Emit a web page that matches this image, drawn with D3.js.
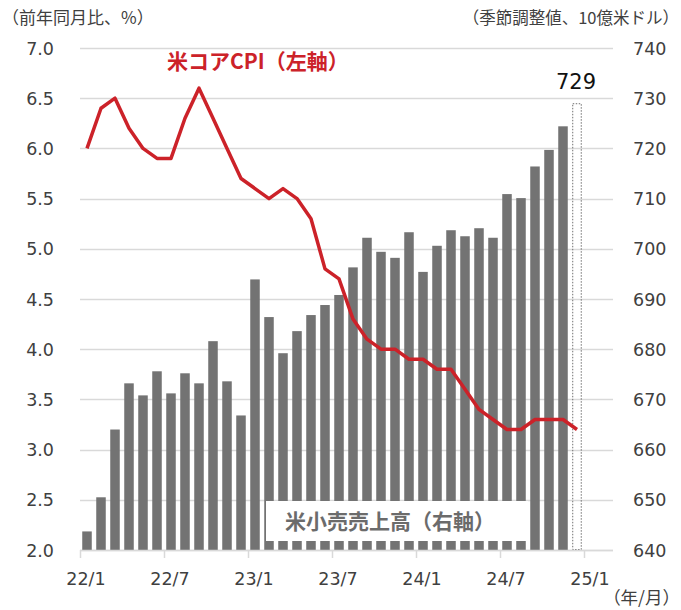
<!DOCTYPE html>
<html><head><meta charset="utf-8">
<script src="https://cdn.jsdelivr.net/npm/d3@7"></script>
<style>
html,body{margin:0;padding:0;background:#fff;}
svg{display:block;}
</style></head>
<body>
<svg id="chart" width="681" height="610"></svg>
<script>
// ---- data ----
const months = ['22/1','22/2','22/3','22/4','22/5','22/6','22/7','22/8','22/9','22/10','22/11','22/12',
  '23/1','23/2','23/3','23/4','23/5','23/6','23/7','23/8','23/9','23/10','23/11','23/12',
  '24/1','24/2','24/3','24/4','24/5','24/6','24/7','24/8','24/9','24/10','24/11','24/12','25/1','25/2'];
const retailSales = [643.7,650.5,664.0,673.2,670.8,675.6,671.2,675.2,673.2,681.6,673.6,666.8,
  693.9,686.4,679.2,683.6,686.8,688.8,690.8,696.3,702.2,699.4,698.2,703.3,
  695.4,700.6,703.7,702.5,704.1,702.2,710.9,710.1,716.4,719.7,724.4,729];
const coreCPI = [6.0,6.4,6.5,6.2,6.0,5.9,5.9,6.3,6.6,6.3,6.0,5.7,
  5.6,5.5,5.6,5.5,5.3,4.8,4.7,4.3,4.1,4.0,4.0,3.9,
  3.9,3.8,3.8,3.6,3.4,3.3,3.2,3.2,3.3,3.3,3.3,3.2];
const xTickLabels = ['22/1','22/7','23/1','23/7','24/1','24/7','25/1'];
const leftTicks = [2.0,2.5,3.0,3.5,4.0,4.5,5.0,5.5,6.0,6.5,7.0];
const rightTicks = [640,650,660,670,680,690,700,710,720,730,740];
const estimateIndex = 35; // last bar drawn as dotted outline
const estimateLabel = '729';

// ---- layout ----
const L = 80, R = 612, T = 48, B = 550;
const svg = d3.select('#chart');
const x = d3.scaleBand().domain(months).range([L, R]).padding(0);
const xb = d3.scaleBand().domain(months).range([L, R]).paddingInner(0.32).paddingOuter(0.16);
const yL = d3.scaleLinear().domain([2, 7]).range([B, T]);
const yR = d3.scaleLinear().domain([640, 740]).range([B, T]);

const tickFont = '"DejaVu Sans", Verdana, sans-serif';
const jpFont = '"Noto Sans CJK JP", sans-serif';
const tickColor = '#404040';

// gridlines
svg.append('g').selectAll('line').data(leftTicks).join('line')
  .attr('x1', L).attr('x2', R + 1)
  .attr('y1', d => Math.round(yL(d)) + 0.5).attr('y2', d => Math.round(yL(d)) + 0.5)
  .attr('stroke', '#d9d9d9').attr('stroke-width', 1.5);

// bars
const barData = retailSales.map((v, i) => ({m: months[i], v, i}));
svg.append('g').selectAll('rect').data(barData.filter(d => d.i !== estimateIndex)).join('rect')
  .attr('x', d => xb(d.m)).attr('width', xb.bandwidth())
  .attr('y', d => yR(d.v)).attr('height', d => B - yR(d.v))
  .attr('fill', '#737373');

// estimate bar (dotted outline)
const est = barData[estimateIndex];
svg.append('rect')
  .attr('x', xb(est.m) + 0.5).attr('width', xb.bandwidth() - 1)
  .attr('y', yR(est.v) + 0.5).attr('height', B - yR(est.v) - 1)
  .attr('fill', 'none').attr('stroke', '#707070').attr('stroke-width', 1)
  .attr('stroke-dasharray', '1.5,1.5');

svg.append('text').attr('x', x(est.m) + x.bandwidth() / 2 - 1).attr('y', yR(est.v) - 14)
  .attr('text-anchor', 'middle').attr('font-family', tickFont).attr('font-size', 21)
  .attr('fill', '#111').text(estimateLabel);

// x axis
svg.append('line').attr('x1', L).attr('x2', R + 1).attr('y1', B + 0.5).attr('y2', B + 0.5)
  .attr('stroke', '#d9d9d9').attr('stroke-width', 1.5);
const xt = svg.append('g');
xt.selectAll('line').data(xTickLabels).join('line')
  .attr('x1', d => x(d) + 0.5).attr('x2', d => x(d) + 0.5)
  .attr('y1', B).attr('y2', B + 8).attr('stroke', '#d9d9d9').attr('stroke-width', 1.5);
xt.selectAll('text').data(xTickLabels).join('text')
  .attr('x', d => x(d) + x.bandwidth() / 2 - 1).attr('y', 585)
  .attr('text-anchor', 'middle').attr('font-family', tickFont).attr('font-size', 17.5)
  .attr('fill', tickColor).text(d => d);

// left axis labels
svg.append('g').selectAll('text').data(leftTicks).join('text')
  .attr('x', 54).attr('y', d => yL(d) + 6.5).attr('text-anchor', 'end')
  .attr('font-family', tickFont).attr('font-size', 17.5).attr('fill', tickColor)
  .text(d => d.toFixed(1));

// right axis labels
svg.append('g').selectAll('text').data(rightTicks).join('text')
  .attr('x', 633).attr('y', d => yR(d) + 6.5).attr('text-anchor', 'start')
  .attr('font-family', tickFont).attr('font-size', 17.5).attr('fill', tickColor)
  .text(d => d);

// CPI line
const line = d3.line().x((d, i) => x(months[i]) + x.bandwidth() / 2).y(d => yL(d)).curve(d3.curveLinear);
svg.append('path').datum(coreCPI).attr('d', line)
  .attr('fill', 'none').attr('stroke', '#cc2229').attr('stroke-width', 3.5)
  .attr('stroke-linejoin', 'round');

// legend labels
svg.append('text').attr('x', 167).attr('y', 69).attr('font-family', jpFont)
  .attr('font-size', 21).attr('font-weight', 'bold').attr('fill', '#cc2229')
  .text('米コアCPI（左軸）');

svg.append('rect').attr('x', 266).attr('y', 501).attr('width', 262).attr('height', 40)
  .attr('fill', '#fff');
svg.append('text').attr('x', 285).attr('y', 529).attr('font-family', jpFont)
  .attr('font-size', 21).attr('font-weight', 'bold').attr('fill', '#6b6b6b')
  .text('米小売売上高（右軸）');

// axis titles
svg.append('text').attr('x', 2).attr('y', 24).attr('font-family', jpFont)
  .attr('font-size', 17).attr('fill', tickColor).text('（前年同月比、%）');
svg.append('text').attr('x', 679).attr('y', 24).attr('text-anchor', 'end').attr('font-family', jpFont)
  .attr('font-size', 16.5).attr('fill', tickColor).text('（季節調整値、10億米ドル）');
svg.append('text').attr('x', 680).attr('y', 604).attr('text-anchor', 'end').attr('font-family', jpFont)
  .attr('font-size', 17.5).attr('fill', tickColor).text('（年/月）');
</script>
</body></html>
